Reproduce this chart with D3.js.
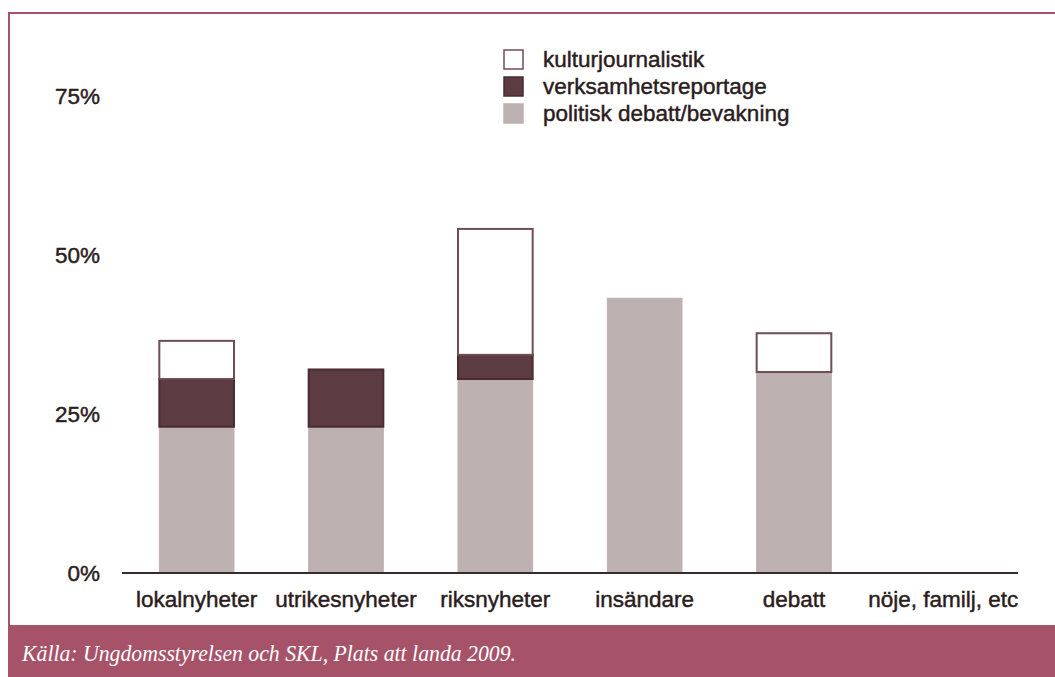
<!DOCTYPE html>
<html>
<head>
<meta charset="utf-8">
<script src="https://cdn.jsdelivr.net/npm/d3@7"></script>
<style>
  body { margin: 0; background: #fff; }
  svg { display: block; }
</style>
</head>
<body>
<div id="chart"></div>
<script>
// Data (percent)
const categories = ['lokalnyheter', 'utrikesnyheter', 'riksnyheter', 'insändare', 'debatt', 'nöje, familj, etc'];
const politisk = [23, 23, 30.5, 43.2, 31.6, 0];
const verksamhet = [7.5, 9, 3.8, 0, 0, 0];
const kultur = [6, 0, 19.8, 0, 6.1, 0];
const seriesNames = ['politisk debatt/bevakning', 'verksamhetsreportage', 'kulturjournalistik'];
const yTicks = [0, 25, 50, 75];
const source = 'Källa: Ungdomsstyrelsen och SKL, Plats att landa 2009.';

const width = 1055, height = 677;
const accent = '#a6536a';
const colors = ['#bdb1b1', '#5d3b43', '#ffffff'];
const strokes = ['#bdb1b1', '#4a2c33', '#6e4d55'];

const svg = d3.select('#chart').append('svg')
    .attr('width', width)
    .attr('height', height);

// frame: top line, left line, footer band
svg.append('rect').attr('x', 8).attr('y', 12).attr('width', width - 8).attr('height', 2).attr('fill', accent);
svg.append('rect').attr('x', 8).attr('y', 12).attr('width', 2).attr('height', 614).attr('fill', accent);
svg.append('rect').attr('x', 8).attr('y', 625).attr('width', width - 8).attr('height', 52).attr('fill', accent);
svg.append('text')
    .attr('x', 22).attr('y', 661)
    .attr('fill', '#fff')
    .attr('textLength', 494)
    .attr('lengthAdjust', 'spacingAndGlyphs')
    .style('font-family', '"Liberation Serif", "DejaVu Serif", serif')
    .style('font-style', 'italic')
    .style('font-size', '24px')
    .text(source);

const x = d3.scaleBand()
    .domain(categories)
    .range([122, 1018])
    .paddingInner(0.5)
    .paddingOuter(0.25);

const y = d3.scaleLinear()
    .domain([0, 75])
    .range([573, 96]);

const rows = categories.map((c, i) => ({
    cat: c, p: politisk[i], v: verksamhet[i], k: kultur[i]
}));
const stack = d3.stack().keys(['p', 'v', 'k'])(rows);

const font = '"Liberation Sans", Arial, Helvetica, sans-serif';
const textColor = '#2b1c20';

function styleText(sel) {
    sel.attr('fill', textColor)
        .attr('stroke', textColor)
        .attr('stroke-width', 0.45)
        .style('font-family', font)
        .style('font-size', '22.5px');
}

// y tick labels
svg.append('g').selectAll('text')
    .data(yTicks)
    .enter().append('text')
    .attr('x', 100)
    .attr('y', d => y(d) + 8)
    .attr('text-anchor', 'end')
    .call(styleText)
    .text(d => d + '%');

// bars
stack.forEach((layer, li) => {
    svg.append('g').selectAll('rect')
        .data(layer.filter(d => d[1] - d[0] > 0))
        .enter().append('rect')
        .attr('x', d => x(d.data.cat))
        .attr('y', d => y(d[1]))
        .attr('width', x.bandwidth())
        .attr('height', d => y(d[0]) - y(d[1]))
        .attr('fill', colors[li])
        .attr('stroke', strokes[li])
        .attr('stroke-width', li === 0 ? 1 : 2);
});

// baseline
svg.append('line')
    .attr('x1', 122).attr('x2', 1018)
    .attr('y1', y(0)).attr('y2', y(0))
    .attr('stroke', '#3a2a2e')
    .attr('stroke-width', 2);

// category labels
svg.append('g').selectAll('text')
    .data(categories)
    .enter().append('text')
    .attr('x', d => x(d) + x.bandwidth() / 2)
    .attr('y', 607)
    .attr('text-anchor', 'middle')
    .call(styleText)
    .text(d => d);

// legend (top entry is kulturjournalistik)
const legendOrder = [2, 1, 0];
const legend = svg.append('g').selectAll('g')
    .data(legendOrder)
    .enter().append('g')
    .attr('transform', (d, i) => `translate(504, ${50 + i * 27})`);
legend.append('rect')
    .attr('width', 19).attr('height', 19)
    .attr('fill', d => colors[d])
    .attr('stroke', d => strokes[d])
    .attr('stroke-width', 1.5);
legend.append('text')
    .attr('x', 39).attr('y', 17)
    .call(styleText)
    .text(d => seriesNames[d]);
</script>
</body>
</html>
